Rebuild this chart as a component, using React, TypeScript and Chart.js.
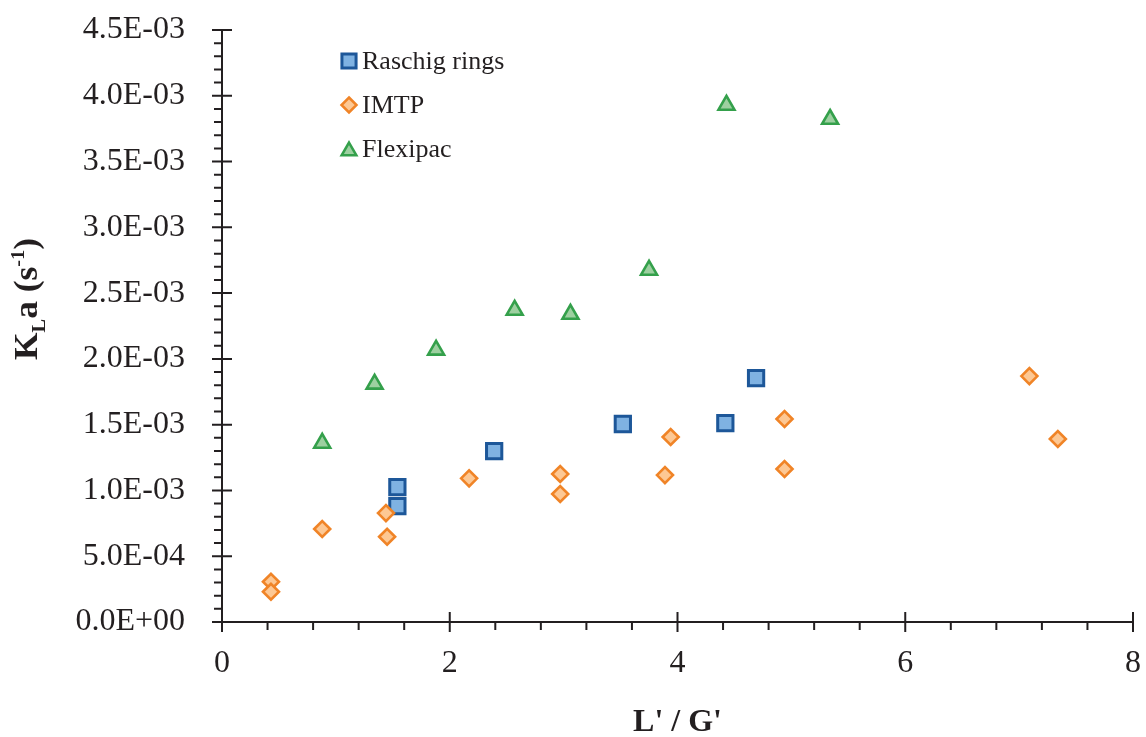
import React, { useEffect, useRef } from "react";
import { Chart, registerables } from "chart.js";

Chart.register(...registerables);

// ---------- data ----------
const seriesNames = ["Raschig rings", "IMTP", "Flexipac"];

const raschigX = [1.54, 1.54, 2.39, 3.52, 4.42, 4.69];
const raschigY = [1.026e-3, 0.881e-3, 1.299e-3, 1.505e-3, 1.512e-3, 1.854e-3];

const imtpX = [0.43, 0.43, 0.88, 1.44, 1.45, 2.17, 2.97, 2.97, 3.94, 3.89, 4.94, 4.94, 7.09, 7.34];
const imtpY = [
  0.306e-3, 0.23e-3, 0.707e-3, 0.828e-3, 0.648e-3, 1.092e-3, 1.125e-3, 0.973e-3,
  1.406e-3, 1.117e-3, 1.543e-3, 1.163e-3, 1.869e-3, 1.391e-3,
];

const flexX = [0.88, 1.34, 1.88, 2.57, 3.06, 3.75, 4.43, 5.34];
const flexY = [1.36e-3, 1.809e-3, 2.067e-3, 2.371e-3, 2.34e-3, 2.675e-3, 3.929e-3, 3.822e-3];

const xTickValues = [0, 2, 4, 6, 8];
const xMin = 0;
const xMax = 8;
const xMinorStep = 0.4;
const yMin = 0;
const yMax = 0.0045;
const yStep = 0.0005;
const yMinorStep = 0.0001;

const xTitle = "L' / G'";

// ---------- style ----------
const FONT = "'Liberation Serif', 'Times New Roman', Times, serif";
const INK = "#231f20";
const styles = [
  { border: "#1d5799", fill: "#7fb2e2", shape: "rect" },
  { border: "#f08427", fill: "#fdc894", shape: "rectRot" },
  { border: "#34a04b", fill: "#9dd0a0", shape: "triangle" },
];

function sci(v: number): string {
  if (Math.abs(v) < 1e-12) return "0.0E+00";
  let e = Math.floor(Math.log10(Math.abs(v)) + 1e-9);
  let m = v / Math.pow(10, e);
  if (Math.round(m * 10) / 10 >= 10) {
    e += 1;
    m = v / Math.pow(10, e);
  }
  return m.toFixed(1) + "E" + (e < 0 ? "-" : "+") + String(Math.abs(e)).padStart(2, "0");
}

function drawMarker(ctx: CanvasRenderingContext2D, shape: string, x: number, y: number, r: number, bw: number, fill: string, border: string) {
  ctx.save();
  ctx.beginPath();
  if (shape === "rect") {
    const s = r * Math.SQRT1_2;
    ctx.rect(x - s, y - s, 2 * s, 2 * s);
  } else if (shape === "rectRot") {
    ctx.moveTo(x, y - r);
    ctx.lineTo(x + r, y);
    ctx.lineTo(x, y + r);
    ctx.lineTo(x - r, y);
    ctx.closePath();
  } else {
    const a = (2 * Math.PI) / 3;
    ctx.moveTo(x, y - r);
    ctx.lineTo(x + Math.sin(a) * r, y - Math.cos(a) * r);
    ctx.lineTo(x + Math.sin(2 * a) * r, y - Math.cos(2 * a) * r);
    ctx.closePath();
  }
  ctx.fillStyle = fill;
  ctx.fill();
  ctx.lineWidth = bw;
  ctx.strokeStyle = border;
  ctx.stroke();
  ctx.restore();
}

function zeroPadding(scale: any) {
  scale.paddingTop = 0;
  scale.paddingBottom = 0;
  scale.paddingLeft = 0;
  scale.paddingRight = 0;
}

const axesPlugin = {
  id: "customAxes",
  beforeDatasetsDraw(chart: any) {
    const { ctx } = chart;
    const xs = chart.scales.x;
    const ys = chart.scales.y;
    const x0 = xs.getPixelForValue(xMin);
    const x1 = xs.getPixelForValue(xMax);
    const y0 = ys.getPixelForValue(yMin);
    const y1 = ys.getPixelForValue(yMax);
    ctx.save();
    ctx.strokeStyle = INK;
    ctx.lineWidth = 2;
    ctx.lineCap = "butt";
    ctx.beginPath();
    ctx.moveTo(x0, y1);
    ctx.lineTo(x0, y0);
    ctx.lineTo(x1, y0);
    ctx.stroke();
    const nx = Math.round((xMax - xMin) / xMinorStep);
    ctx.beginPath();
    for (let i = 0; i <= nx; i++) {
      const v = xMin + i * xMinorStep;
      const px = xs.getPixelForValue(v);
      if (i % 5 === 0) {
        ctx.moveTo(px, y0 - 10);
        ctx.lineTo(px, y0 + 10);
      } else {
        ctx.moveTo(px, y0);
        ctx.lineTo(px, y0 + 8);
      }
    }
    const ny = Math.round((yMax - yMin) / yMinorStep);
    for (let i = 0; i <= ny; i++) {
      const v = yMin + i * yMinorStep;
      const py = ys.getPixelForValue(v);
      if (i % 5 === 0) {
        ctx.moveTo(x0 - 10, py);
        ctx.lineTo(x0 + 10, py);
      } else {
        ctx.moveTo(x0 - 8, py);
        ctx.lineTo(x0, py);
      }
    }
    ctx.stroke();
    ctx.restore();
  },
  afterDraw(chart: any) {
    const { ctx } = chart;
    // y-axis title with subscript / superscript
    const big = `bold 33px ${FONT}`;
    const small = `bold 19px ${FONT}`;
    ctx.save();
    ctx.font = big;
    const wK = ctx.measureText("K").width;
    const wa = ctx.measureText("a").width;
    const wp = ctx.measureText(" (s").width;
    const wc = ctx.measureText(")").width;
    ctx.font = small;
    const wL = ctx.measureText("L").width;
    const wsup = ctx.measureText("-1").width;
    const total = wK + wL + wa + wp + wsup + wc;
    const span = 122;
    ctx.translate(37, 360);
    ctx.rotate(-Math.PI / 2);
    ctx.scale(span / total, 1);
    ctx.fillStyle = INK;
    ctx.textAlign = "left";
    ctx.textBaseline = "alphabetic";
    let p = 0;
    ctx.font = big;
    ctx.fillText("K", p, 0);
    p += wK;
    ctx.font = small;
    ctx.fillText("L", p, 8);
    p += wL;
    ctx.font = big;
    ctx.fillText("a", p, 0);
    p += wa;
    ctx.fillText(" (s", p, 0);
    p += wp;
    ctx.font = small;
    ctx.fillText("-1", p, -13);
    p += wsup;
    ctx.font = big;
    ctx.fillText(")", p, 0);
    ctx.restore();

    // legend
    ctx.save();
    ctx.font = `26px ${FONT}`;
    ctx.fillStyle = INK;
    ctx.textAlign = "left";
    ctx.textBaseline = "middle";
    const legendSizes = [
      { r: 10, bw: 3 },
      { r: 7.5, bw: 2.5 },
      { r: 8.5, bw: 2.5 },
    ];
    seriesNames.forEach((name, i) => {
      const cy = 61 + i * 44;
      const st = styles[i];
      const cyAdj = st.shape === "triangle" ? cy + 2 : cy;
      drawMarker(ctx, st.shape, 349, cyAdj, legendSizes[i].r, legendSizes[i].bw, st.fill, st.border);
      ctx.fillText(name, 362, cy + 1);
    });
    ctx.restore();
  },
};

export default function App() {
  const ref = useRef<HTMLCanvasElement | null>(null);

  useEffect(() => {
    if (!ref.current) return;
    const mk = (xs: number[], ys: number[]) => xs.map((x, i) => ({ x, y: ys[i] }));
    const chart = new Chart(ref.current, {
      type: "scatter",
      data: {
        datasets: [
          {
            label: seriesNames[0],
            data: mk(raschigX, raschigY),
            pointStyle: "rect",
            pointRadius: 10.8,
            pointBorderWidth: 3,
            backgroundColor: styles[0].fill,
            borderColor: styles[0].border,
            order: 2,
          },
          {
            label: seriesNames[1],
            data: mk(imtpX, imtpY),
            pointStyle: "rectRot",
            pointRadius: 8,
            pointBorderWidth: 2.6,
            backgroundColor: styles[1].fill,
            borderColor: styles[1].border,
            order: 1,
          },
          {
            label: seriesNames[2],
            data: mk(flexX, flexY),
            pointStyle: "triangle",
            pointRadius: 9.2,
            pointBorderWidth: 2.6,
            backgroundColor: styles[2].fill,
            borderColor: styles[2].border,
            order: 0,
          },
        ],
      },
      options: {
        responsive: false,
        animation: false,
        events: [],
        devicePixelRatio: 1,
        layout: { autoPadding: false, padding: { top: 30, right: 13, left: 0, bottom: 0 } },
        plugins: {
          legend: { display: false },
          tooltip: { enabled: false },
        },
        scales: {
          x: {
            type: "linear",
            min: xMin,
            max: xMax,
            afterBuildTicks: (scale: any) => {
              scale.ticks = xTickValues.map((v) => ({ value: v }));
            },
            afterFit: (scale: any) => {
              scale.height = 115;
              zeroPadding(scale);
            },
            grid: { display: false },
            border: { display: false },
            ticks: {
              font: { family: FONT, size: 32 },
              color: INK,
              padding: 14,
              maxRotation: 0,
              autoSkip: false,
              callback: (v: any) => String(v),
            },
            title: {
              display: true,
              text: xTitle,
              font: { family: FONT, size: 32, weight: "bold", lineHeight: 1 },
              color: INK,
              padding: { top: 0, bottom: -2 },
            },
          },
          y: {
            type: "linear",
            min: yMin,
            max: yMax,
            afterFit: (scale: any) => {
              scale.width = 222;
              zeroPadding(scale);
            },
            grid: { display: false },
            border: { display: false },
            ticks: {
              stepSize: yStep,
              font: { family: FONT, size: 32 },
              color: INK,
              padding: 29,
              callback: (v: any) => sci(Number(v)),
            },
          },
        },
      },
      plugins: [axesPlugin],
    } as any);
    return () => chart.destroy();
  }, []);

  return (
    <div style={{ position: "fixed", left: 0, top: 0, width: 1146, height: 737, background: "#ffffff" }}>
      <canvas ref={ref} width={1146} height={737} />
    </div>
  );
}
